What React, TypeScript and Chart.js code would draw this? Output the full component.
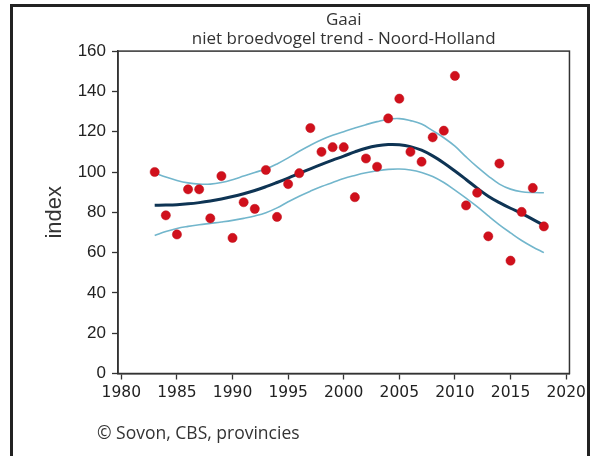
import React, { useEffect, useRef } from "react";
import { Chart, registerables } from "chart.js";

Chart.register(...registerables);

const titleLines = ["Gaai", "niet broedvogel trend - Noord-Holland"];
const yAxisTitle = "index";
const footerText = "© Sovon, CBS, provincies";

const xTicks = [1980, 1985, 1990, 1995, 2000, 2005, 2010, 2015, 2020];
const yTicks = [0, 20, 40, 60, 80, 100, 120, 140, 160];

const years = [
  1983, 1984, 1985, 1986, 1987, 1988, 1989, 1990, 1991, 1992, 1993, 1994,
  1995, 1996, 1997, 1998, 1999, 2000, 2001, 2002, 2003, 2004, 2005, 2006,
  2007, 2008, 2009, 2010, 2011, 2012, 2013, 2014, 2015, 2016, 2017, 2018,
];

const observed = [
  100, 78.5, 69, 91.4, 91.4, 77, 98, 67.3, 85, 81.7, 101, 77.7,
  94, 99.4, 121.8, 110, 112.3, 112.3, 87.5, 106.7, 102.6, 126.6, 136.4, 110,
  105.1, 117.2, 120.5, 147.7, 83.4, 89.7, 68.1, 104.2, 56, 80.2, 92.1, 73,
];

const trend = [
  83.5, 83.6, 83.8, 84.2, 84.8, 85.6, 86.6, 87.8, 89.2, 90.8, 92.7, 94.8,
  97.0, 99.3, 101.6, 103.8, 105.9, 107.9, 110.0, 111.8, 113.0, 113.6, 113.5, 112.6,
  110.8, 108.0, 104.5, 100.5, 96.3, 92.0, 88.0, 84.8, 82.0, 79.5, 76.5, 73.5,
];

const upper = [
  99.5, 97.5, 95.8, 94.6, 94.0, 94.0, 94.8, 96.2, 98.0, 99.8, 101.5, 104.0,
  107.0, 110.3, 113.3, 116.0, 118.2, 120.0, 121.8, 123.5, 125.0, 126.2, 126.5, 125.5,
  123.8, 120.5, 117.0, 112.8, 107.5, 102.5, 98.0, 94.0, 91.5, 90.2, 89.8, 89.7,
];

const lower = [
  68.5, 70.5, 72.0, 73.0, 73.8, 74.5, 75.2, 76.0, 77.0, 78.2, 79.8, 82.2,
  85.2, 88.0, 90.5, 92.8, 94.8, 96.8, 98.3, 99.6, 100.6, 101.3, 101.5, 101.0,
  99.8, 97.8, 94.8, 91.0, 87.0, 82.8, 78.2, 73.8, 69.8, 66.0, 62.8, 60.0,
];

const toXY = (vals: number[]) => years.map((yr, i) => ({ x: yr, y: vals[i] }));

const framePlugin = {
  id: "frameBox",
  afterDraw(chart: any) {
    const { ctx, chartArea } = chart;
    ctx.save();
    ctx.strokeStyle = "#333333";
    ctx.lineWidth = 1.5;
    ctx.strokeRect(
      chartArea.left,
      chartArea.top,
      chartArea.right - chartArea.left,
      chartArea.bottom - chartArea.top
    );
    ctx.restore();
  },
};

export default function App() {
  const canvasRef = useRef<HTMLCanvasElement | null>(null);

  useEffect(() => {
    if (!canvasRef.current) return;
    const chart = new Chart(canvasRef.current, {
      type: "line",
      data: {
        datasets: [
          {
            label: "waarneming",
            data: toXY(observed),
            showLine: false,
            pointRadius: 4.6,
            pointBackgroundColor: "#d0101c",
            pointBorderColor: "#c0101a",
            pointBorderWidth: 0.5,
          },
          {
            label: "trend",
            data: toXY(trend),
            borderColor: "#0e3454",
            borderWidth: 3,
            pointRadius: 0,
            tension: 0.4,
            fill: false,
          },
          {
            label: "bovengrens",
            data: toXY(upper),
            borderColor: "#72b6cc",
            borderWidth: 1.6,
            pointRadius: 0,
            tension: 0.4,
            fill: false,
          },
          {
            label: "ondergrens",
            data: toXY(lower),
            borderColor: "#72b6cc",
            borderWidth: 1.6,
            pointRadius: 0,
            tension: 0.4,
            fill: false,
          },
        ],
      },
      options: {
        animation: false,
        responsive: false,
        maintainAspectRatio: false,
        layout: { padding: { top: 10, left: 0, right: 19, bottom: 0 } },
        plugins: {
          legend: { display: false },
          tooltip: { enabled: false },
          title: {
            display: true,
            text: titleLines,
            fullSize: false,
            color: "#333333",
            font: { family: "'Open Sans'", size: 17, weight: "normal", lineHeight: 1.15 },
            padding: { top: 0, bottom: 2 },
          },
        },
        scales: {
          x: {
            type: "linear",
            min: 1979.7,
            max: 2020.3,
            afterBuildTicks: (scale: any) => {
              scale.ticks = xTicks.map((v) => ({ value: v }));
            },
            afterFit: (scale: any) => {
              scale.height = 82.5;
            },
            grid: {
              display: true,
              drawOnChartArea: false,
              drawTicks: true,
              tickLength: 6,
              tickColor: "#333333",
              tickWidth: 1.3,
            },
            border: { display: true, color: "#333333", width: 1.5 },
            ticks: {
              color: "#222222",
              padding: 4,
              maxRotation: 0,
              autoSkip: false,
              font: { family: "'DejaVu Sans'", size: 15.5 },
              callback: (v: any) => String(v),
            },
          },
          y: {
            type: "linear",
            min: 0,
            max: 160,
            afterBuildTicks: (scale: any) => {
              scale.ticks = yTicks.map((v) => ({ value: v }));
            },
            afterFit: (scale: any) => {
              scale.width = 118;
            },
            grid: {
              display: true,
              drawOnChartArea: false,
              drawTicks: true,
              tickLength: 6,
              tickColor: "#333333",
              tickWidth: 1.3,
            },
            border: { display: true, color: "#333333", width: 1.5 },
            title: {
              display: true,
              text: yAxisTitle,
              color: "#333333",
              font: { family: "'Liberation Sans'", size: 22, lineHeight: 1.2 },
              padding: { top: 42, bottom: 0 },
            },
            ticks: {
              color: "#222222",
              padding: 6,
              autoSkip: false,
              font: { family: "'Liberation Sans'", size: 17 },
              callback: (v: any) => String(v),
            },
          },
        },
      },
      plugins: [framePlugin],
    } as any);
    return () => chart.destroy();
  }, []);

  return (
    <div
      style={{
        position: "fixed",
        left: 0,
        top: 0,
        width: 590,
        height: 456,
        background: "#ffffff",
        overflow: "hidden",
      }}
    >
      <div
        style={{
          position: "absolute",
          left: 10,
          top: 4,
          width: 574,
          height: 470,
          borderTop: "3px solid #222222",
          borderLeft: "3px solid #222222",
          borderRight: "3px solid #222222",
        }}
      />
      <canvas
        ref={canvasRef}
        width={590}
        height={456}
        style={{ position: "absolute", left: 0, top: 0, width: 590, height: 456 }}
      />
      <div
        style={{
          position: "absolute",
          left: 97,
          top: 421,
          fontFamily: "'Open Sans', sans-serif",
          fontSize: 17.5,
          color: "#333333",
          whiteSpace: "nowrap",
          lineHeight: "22px",
        }}
      >
        {footerText}
      </div>
    </div>
  );
}
